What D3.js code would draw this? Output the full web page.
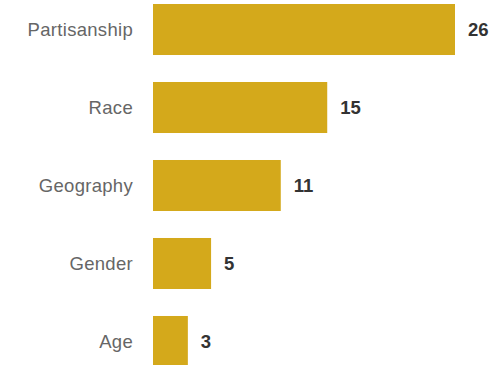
<!DOCTYPE html>
<html>
<head>
<meta charset="utf-8">
<script src="https://cdn.jsdelivr.net/npm/d3@7"></script>
<style>
  html, body { margin: 0; padding: 0; background: #fff; }
  svg { display: block; }
</style>
</head>
<body>
<div id="chart"></div>
<script>
const categories = ["Partisanship", "Race", "Geography", "Gender", "Age"];
const values = [26, 15, 11, 5, 3];

const W = 495, H = 365;
const svg = d3.select("#chart").append("svg").attr("width", W).attr("height", H);

const x = d3.scaleLinear().domain([0, 26]).range([153, 455]);
const y = d3.scaleBand().domain(categories).range([4, 367]).paddingInner(0.346).paddingOuter(0);

const data = categories.map((c, i) => ({ c, v: values[i] }));

svg.selectAll("rect.bar").data(data).join("rect")
  .attr("class", "bar")
  .attr("x", x(0))
  .attr("y", d => y(d.c))
  .attr("width", d => x(d.v) - x(0))
  .attr("height", y.bandwidth())
  .attr("fill", "#D4A91B");

svg.selectAll("text.cat").data(data).join("text")
  .attr("class", "cat")
  .attr("x", 133)
  .attr("y", d => y(d.c) + y.bandwidth() / 2)
  .attr("dy", "0.35em")
  .attr("text-anchor", "end")
  .attr("font-family", "Liberation Sans, Arial, sans-serif")
  .attr("font-size", 18.5)
  .attr("letter-spacing", 0.3)
  .attr("fill", "#666")
  .text(d => d.c);

svg.selectAll("text.val").data(data).join("text")
  .attr("class", "val")
  .attr("x", d => x(d.v) + 13)
  .attr("y", d => y(d.c) + y.bandwidth() / 2)
  .attr("dy", "0.35em")
  .attr("font-family", "Liberation Sans, Arial, sans-serif")
  .attr("font-weight", "bold")
  .attr("font-size", 18.5)
  .attr("fill", "#333")
  .text(d => d.v);
</script>
</body>
</html>
